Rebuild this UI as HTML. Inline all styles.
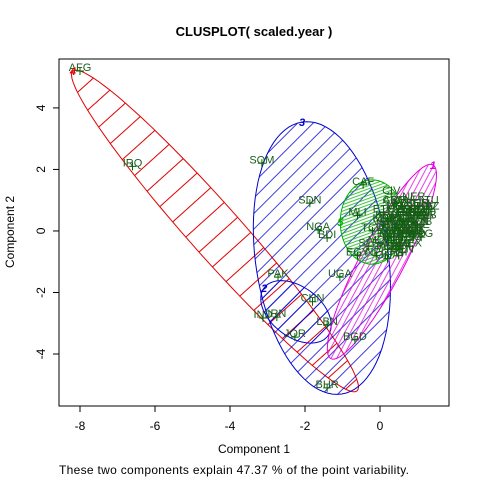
<!DOCTYPE html>
<html><head><meta charset="utf-8"><style>
body{margin:0;background:#fff}
svg{display:block;font-family:"Liberation Sans",Arial,sans-serif}
</style></head><body>
<svg id="c" width="480" height="480"></svg>
<script>
// data
const ellCX=[-4.4,-1.55,-2.24,0.05,-0.21];
const ellCY=[0.0,-0.88,-2.63,-1.0,0.29];
const ellUX=[3.79,-0.53,0.85,1.36,0.85];
const ellUY=[-5.2,4.42,-0.78,3.15,0];
const ellVX=[0.52,1.75,-0.4,0.52,0];
const ellVY=[0.56,0.33,-0.65,-0.33,1.37];
const clusterIds=["4","3","2","1","5"];
const labelNames=["AFG","IRQ","SOM","SDN","NGA","BDI","UGA","PAK","CHN","IND","IRN","JOR","LBN","BGD","BHR","CAF","MLI",
"CIV","NER","LTU","ETH","MDG","TZA","KEN","ZMB","MWI","RWA","TCD","GIN","BFA","MOZ","COD","AGO","LSO","SLE","HTI","GHA","TGO","CMR","BEN","SEN","NPL","MDV","MNG","KGZ","TJK","LAO","KHM","EGY",
"ARM","AZE","BLR","BGR","HRV","CZE","EST","GEO","HUN","KAZ","LVA","MDA","POL","ROU","RUS","SVK","SVN","UKR","UZB","ALB","MKD","SRB","MNE","BIH","TKM","BRA","ARG","CHL","COL","PER","URY","MEX","VEN","ECU","BOL","PRY","THA","VNM","IDN","PHL","LKA"];
const ptX=[-8.0,-6.6,-3.15,-1.87,-1.65,-1.41,-1.07,-2.72,-1.8,-3.12,-2.75,-2.27,-1.41,-0.67,-1.41,-0.45,-0.6,
0.3,0.9,1.3,0.1,0.5,0.8,1.0,0.2,0.6,1.1,-0.2,0.4,0.7,0.0,0.9,0.3,1.2,-0.3,0.5,0.2,0.8,0.4,1.0,0.6,-0.1,0.3,0.7,0.1,0.9,0.5,0.2,-0.6,
0.4,0.6,0.8,1.0,1.2,0.5,0.7,0.9,1.1,1.3,0.3,0.6,0.8,1.0,1.2,0.4,0.7,0.9,1.1,0.2,0.5,0.8,1.0,0.3,0.6,0.9,1.1,0.4,0.7,0.2,0.5,0.8,0.1,0.4,0.6,0.9,0.3,0.5,0.7,0.2,0.6];
const ptY=[5.2,2.1,2.2,0.9,0.03,-0.23,-1.5,-1.5,-2.3,-2.83,-2.8,-3.45,-3.06,-3.54,-5.1,1.5,0.5,
1.2,1.0,0.9,0.6,0.7,0.5,0.8,0.3,0.2,0.4,0.0,-0.1,0.1,-0.4,-0.2,-0.6,0.5,-0.5,-0.8,-0.9,-0.3,0.9,0.2,-0.7,-0.8,-0.2,0.6,0.3,-0.1,0.0,0.4,-0.8,
0.9,0.8,0.7,0.8,0.7,0.6,0.5,0.6,0.6,0.7,0.4,0.3,0.4,0.5,0.4,0.2,0.1,0.3,0.2,0.0,0.0,-0.1,0.1,-0.3,-0.2,-0.1,-0.2,-0.4,-0.4,-0.6,-0.5,-0.5,0.2,0.1,-0.1,0.0,-0.3,-0.6,-0.2,-0.2,0.3];
const xTicks=[-8,-6,-4,-2,0];
const yTicks=[-4,-2,0,2,4];
</script>
<script>
const NS="http://www.w3.org/2000/svg";
const svg=document.getElementById('c');
const L=59,R=449,T=59,B=406;
const X0=-8.56,X1=1.84,Y0=-5.69,Y1=5.59;
const sx=v=>L+(v-X0)/(X1-X0)*(R-L);
const sy=v=>B-(v-Y0)/(Y1-Y0)*(B-T);
function mk(t,a,p){const e=document.createElementNS(NS,t);for(const k in a)e.setAttribute(k,a[k]);(p||svg).appendChild(e);return e;}
const defs=mk('defs',{});
const cols=["#e00000","#0000d0","#0000d0","#e000e0","#00b000"];
const hatch=[[20,-42,0.9],[11,-45,0.8],[11,-45,0.8],[5,-62,0.8],[3,-20,0.8]];
const clip=mk('clipPath',{id:'plotclip'},defs);
mk('rect',{x:L,y:T,width:R-L,height:B-T},clip);
const g=mk('g',{'clip-path':'url(#plotclip)'});
for(let i=0;i<ellCX.length;i++){
  let d='';
  for(let k=0;k<=90;k++){const t=k/90*2*Math.PI;
    const x=ellCX[i]+ellUX[i]*Math.cos(t)+ellVX[i]*Math.sin(t);
    const y=ellCY[i]+ellUY[i]*Math.cos(t)+ellVY[i]*Math.sin(t);
    d+=(k?'L':'M')+sx(x).toFixed(1)+','+sy(y).toFixed(1);}
  d+='Z';
  const pat=mk('pattern',{id:'h'+i,patternUnits:'userSpaceOnUse',width:40,height:hatch[i][0],patternTransform:'rotate('+hatch[i][1]+')'},defs);
  mk('line',{x1:0,y1:0.5,x2:40,y2:0.5,stroke:cols[i],'stroke-width':hatch[i][2]},pat);
  const cp=mk('clipPath',{id:'ec'+i},defs);mk('path',{d:d},cp);
  const hr=mk('rect',{x:0,y:0,width:480,height:480,fill:'url(#h'+i+')','clip-path':'url(#ec'+i+')'},g);
  
  
  const e=mk('path',{d:d,fill:'none',stroke:cols[i],'stroke-width':1},g);
  
  
}
for(let i=0;i<ptX.length;i++){
  const px=sx(ptX[i]),py=sy(ptY[i]);
  const m=mk('path',{d:`M${px-4},${py}H${px+4}M${px},${py-4}V${py+4}`,stroke:'#006400','stroke-width':1},g);
  
  
  const t=mk('text',{x:px,y:py,'text-anchor':'middle','font-size':11,fill:'#1a5c1a'},g);
  t.textContent=labelNames[i];
  
  
}
for(let i=0;i<ellCX.length;i++){
  const x=ellCX[i]+ellUX[i]*(ellUY[i]>0?1:-1),y=ellCY[i]+Math.abs(ellUY[i]);
  const t=mk('text',{x:sx(x),y:sy(y)+4,'text-anchor':'middle','font-size':11,'font-weight':'bold','font-style':'italic',fill:cols[i]});
  t.textContent=clusterIds[i];
  
  
}
const box=mk('rect',{x:L,y:T,width:R-L,height:B-T,fill:'none',stroke:'#000'});

xTicks.forEach(v=>{const x=sx(v);mk('line',{x1:x,y1:B,x2:x,y2:B+6,stroke:'#000'});
 const t=mk('text',{x:x,y:B+24,'text-anchor':'middle','font-size':12});t.textContent=v;
 });
yTicks.forEach(v=>{const y=sy(v);mk('line',{x1:L-6,y1:y,x2:L,y2:y,stroke:'#000'});
 const t=mk('text',{x:0,y:0,'text-anchor':'middle','font-size':12,transform:`translate(${L-14},${y}) rotate(-90)`});t.textContent=v;
 });
</script>
<script>
const s=document.getElementById('c');
function tx(a,txt,name){const e=document.createElementNS("http://www.w3.org/2000/svg",'text');for(const k in a)e.setAttribute(k,a[k]);e.textContent=txt;s.appendChild(e);}
tx({x:254,y:36,'text-anchor':'middle','font-size':13,'font-weight':'bold'},'CLUSPLOT( scaled.year )','chart-title');
tx({x:254,y:453,'text-anchor':'middle','font-size':12},'Component 1','x-axis-title');
tx({x:234,y:474,'text-anchor':'middle','font-size':12,textLength:350},'These two components explain 47.37 % of the point variability.','subtitle');
tx({x:0,y:0,'text-anchor':'middle','font-size':12,transform:'translate(14,232) rotate(-90)'},'Component 2','y-axis-title');
</script>
</body></html>
